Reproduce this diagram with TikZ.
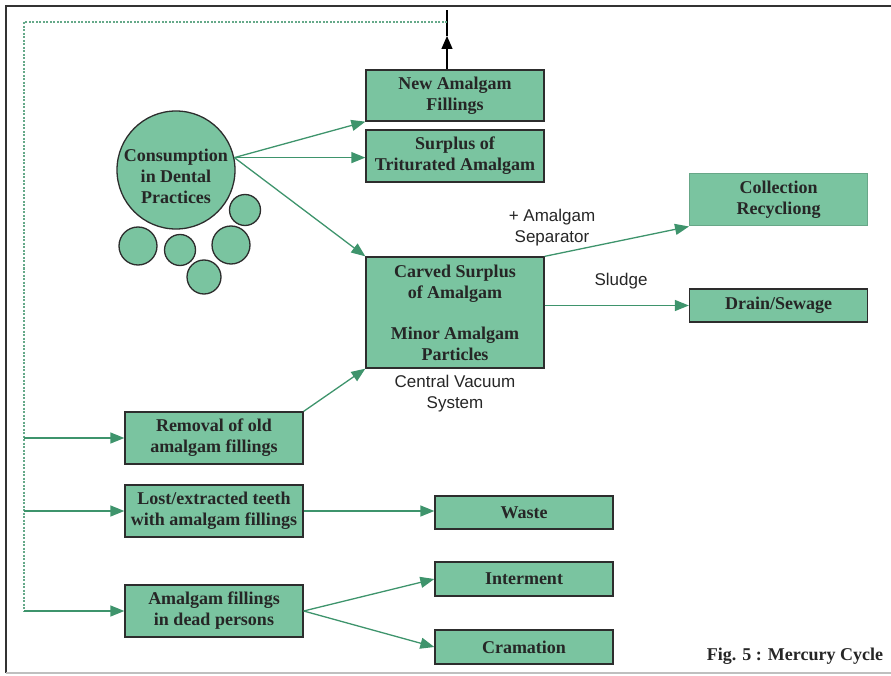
\documentclass[tikz,border=0pt]{standalone}
\usepackage{fontspec}
\setmainfont{Liberation Serif}
\newfontfamily\labelfont{Liberation Sans}
\usetikzlibrary{arrows.meta}
\definecolor{boxgreen}{RGB}{122,196,160}
\definecolor{linegreen}{RGB}{62,148,108}
\definecolor{boxline}{RGB}{45,45,45}
\begin{document}
\begin{tikzpicture}[x=1pt,y=-1pt,
    box/.style={draw=boxline,line width=1.3pt,fill=boxgreen,minimum width=178pt,minimum height=52pt,inner sep=0pt,align=center,font=\fontsize{18}{21}\selectfont\bfseries,text=black!85},
    disc/.style={circle,draw=boxline,line width=1.3pt,fill=boxgreen,inner sep=0pt},
    flow/.style={draw=linegreen,line width=1.3pt,-{Triangle[length=14pt,width=11pt]}},
    note/.style={font=\labelfont\fontsize{17}{21}\selectfont,align=center,text=black!85}]
    \useasboundingbox (0,0) rectangle (891,676);
    % frame
    \draw [black!80,line width=1.3pt] (6,673) -- (6,6) -- (891,6);
    \draw [black!25,line width=1.3pt] (6,673) -- (891,673);
    % consumption
    \node [disc,minimum size=118pt,label={[name=consumetext,align=center,font=\fontsize{18}{21}\selectfont\bfseries,text=black!85,yshift=-6pt]center:Consumption\\in Dental\\Practices}] (consume) at (176,170) {};
    \node [disc,minimum size=38pt] (d1) at (138,246) {};
    \node [disc,minimum size=31pt] (d2) at (180,250) {};
    \node [disc,minimum size=38pt] (d3) at (231,245) {};
    \node [disc,minimum size=31pt] (d4) at (245,210) {};
    \node [disc,minimum size=34pt] (d5) at (204,277) {};
    % boxes
    \node [box,minimum height=51pt] (newfill) at (455,95.5) {New Amalgam\\Fillings};
    \node [box] (surplus) at (455,156) {Surplus of\\Triturated Amalgam};
    \node [box,minimum height=111pt] (carved) at (455,312.5) {Carved Surplus\\of Amalgam\\[20pt]Minor Amalgam\\Particles};
    \node [box,draw=boxgreen!85!black,line width=1pt] (collect) at (778.5,200) {Collection\\Recycliong};
    \node [box,minimum height=33pt] (drain) at (778.5,305.5) {Drain/Sewage};
    \node [box] (removal) at (214,438) {Removal of old\\amalgam fillings};
    \node [box] (lost) at (214,511) {Lost/extracted teeth\\with amalgam fillings};
    \node [box] (dead) at (214,611) {Amalgam fillings\\in dead persons};
    \node [box,minimum height=33pt] (waste) at (524,512.5) {Waste};
    \node [box,minimum height=34pt] (inter) at (524,579) {Interment};
    \node [box,minimum height=34pt] (crem) at (524,647) {Cramation};
    % labels
    \node [note] (sep) at (552,228) {+ Amalgam\\Separator};
    \node [note] (sludge) at (621,281) {Sludge};
    \node [note,anchor=north] (vacuum) at ([yshift=-3pt]carved.south) {Central Vacuum\\System};
    \node [font=\fontsize{18}{21}\selectfont\bfseries,text=black!85] (fig) at (795,656) {Fig. 5 : Mercury Cycle};
    % flows
    \draw [flow] (consume.12) -- (newfill.south west);
    \draw [flow] (consume.12) -- (surplus.west |- consume.12);
    \draw [flow] (consume.12) -- (carved.north west);
    \draw [flow] (removal.north east) -- (carved.south west);
    \draw [flow] (carved.north east) -- (collect.south west);
    \draw [flow] (carved.east |- drain.west) -- (drain.west);
    \draw [flow] (lost.east) -- (waste.west |- lost.east);
    \draw [flow] (dead.east) -- (inter.west);
    \draw [flow] (dead.east) -- (crem.west);
    % return loop
    \coordinate (tip) at (447,36);
    \coordinate (top) at (447,10);
    \coordinate (rail) at (24,22);
    \draw [-{Triangle[length=13pt,width=11pt]},line width=1.2pt] (newfill.north -| tip) -- (tip);
    \draw [line width=1.2pt] (tip) -- (top);
    \draw [linegreen!80,line width=1.4pt,dash pattern=on 2pt off 1.5pt] (rail -| tip) -- (rail) -- (rail |- dead.west);
    \draw [flow] (rail |- removal.west) -- (removal.west);
    \draw [flow] (rail |- lost.west) -- (lost.west);
    \draw [flow] (rail |- dead.west) -- (dead.west);
\end{tikzpicture}
\end{document}
